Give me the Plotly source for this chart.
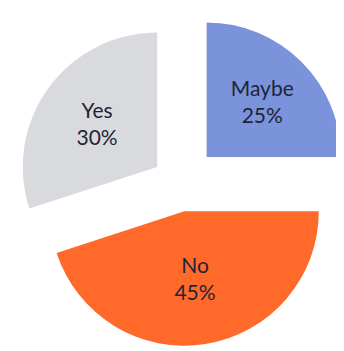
import plotly.graph_objects as go

labels = ["Maybe", "No", "Yes"]
values = [25, 45, 30]
colors = ["#7b93db", "#ff6a2b", "#d9dadd"]
pulls = [0.28, 0.21, 0.21]

fig = go.Figure(go.Pie(
    labels=labels,
    values=values,
    sort=False,
    direction="clockwise",
    rotation=0,
    pull=pulls,
    marker=dict(colors=colors, line=dict(width=0)),
    textinfo="label+percent",
    texttemplate="%{label}<br>%{percent:.0%}",
    textposition="inside",
    insidetextorientation="horizontal",
    textfont=dict(family="Lato", size=21, color="#1f2438"),
    hoverinfo="skip",
))

fig.update_layout(
    width=344, height=351,
    margin=dict(l=0, r=0, t=0, b=0),
    showlegend=False,
    paper_bgcolor="white",
    plot_bgcolor="white",
)

fig.write_html("out.html")
